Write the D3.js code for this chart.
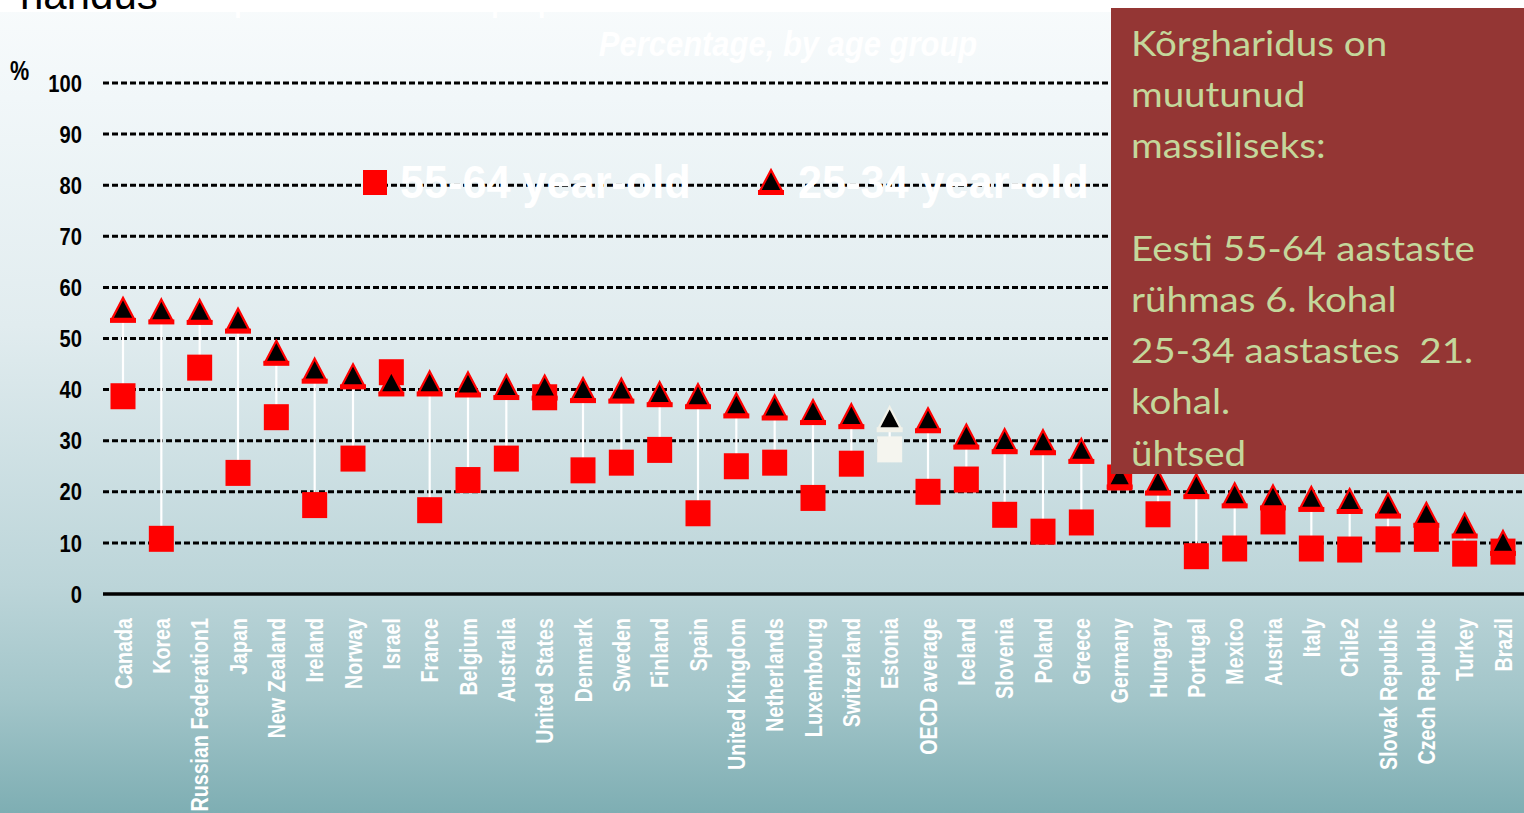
<!DOCTYPE html>
<html><head><meta charset="utf-8">
<script src="https://cdn.jsdelivr.net/npm/d3@7/dist/d3.min.js"></script>
<style>html,body{margin:0;padding:0;overflow:hidden;background:#fff}svg{display:block}</style>
</head><body>
<script>
const categories = ["Canada","Korea","Russian Federation1","Japan","New Zealand","Ireland","Norway","Israel","France","Belgium","Australia","United States","Denmark","Sweden","Finland","Spain","United Kingdom","Netherlands","Luxembourg","Switzerland","Estonia","OECD average","Iceland","Slovenia","Poland","Greece","Germany","Hungary","Portugal","Mexico","Austria","Italy","Chile2","Slovak Republic","Czech Republic","Turkey","Brazil"];
const age25_34 = [55.6,55.3,55.2,53.5,47.2,43.7,42.6,41.2,41.2,41.0,40.5,40.4,39.9,39.8,39.1,38.7,36.9,36.5,35.6,34.8,34.2,34.0,30.8,29.9,29.7,28.0,23.0,21.8,21.1,19.3,18.9,18.6,18.2,17.3,15.5,13.4,10.0];
const age55_64 = [38.7,10.8,44.3,23.7,34.6,17.4,26.5,43.4,16.4,22.3,26.5,38.5,24.2,25.7,28.2,15.8,25.0,25.7,18.8,25.5,28.3,20.0,22.4,15.5,12.2,14.0,22.8,15.6,7.4,8.9,14.2,8.9,8.7,10.7,10.8,7.9,8.3];
const yTicks = [0,10,20,30,40,50,60,70,80,90,100];
const highlight = "Estonia";
const legendLabels = ["55-64 year-old","25-34 year-old"];
const titleText = "haridus";
const subtitleWhite = "Proportion of the population that has attained tertiary education";
const chartSubtitle = "Percentage, by age group";
const boxLines = ["Kõrgharidus on","muutunud","massiliseks:","","Eesti 55-64 aastaste","rühmas 6. kohal","25-34 aastastes  21.","kohal.","ühtsed"];

const W = 1524, H = 813;
const svg = d3.select("body").append("svg").attr("width", W).attr("height", H);

const defs = svg.append("defs");
const grad = defs.append("linearGradient").attr("id","bg").attr("x1",0).attr("y1",0).attr("x2",0).attr("y2",1);
[[0,"#f8fbfc"],[0.12,"#f1f7f9"],[0.4,"#e1ecef"],[0.72,"#bcd5d9"],[0.86,"#a2c5c9"],[1,"#7eaeb3"]]
  .forEach(([o,c]) => grad.append("stop").attr("offset",o).attr("stop-color",c));

svg.append("rect").attr("width",W).attr("height",H).attr("fill","url(#bg)");
svg.append("rect").attr("width",W).attr("height",12).attr("fill","#ffffff");

const font = "Arial, 'Liberation Sans', sans-serif";

// titles (cut off at the top edge, as in the reference slide)
svg.append("text").attr("x",20).attr("y",9).attr("font-family",font).attr("font-size",42)
  .attr("fill","#000").text(titleText);
svg.append("text").attr("x",168).attr("y",9).attr("font-family",font).attr("font-size",42)
  .attr("fill","#ffffff").text(subtitleWhite);
svg.append("text").attr("transform","translate(788,56) scale(0.86,1)").attr("text-anchor","middle")
  .attr("font-family",font).attr("font-size",36).attr("font-weight","bold").attr("font-style","italic")
  .attr("fill","#ffffff").text(chartSubtitle);

const y = d3.scaleLinear().domain([0,100]).range([594,83]);
const x = d3.scalePoint().domain(categories).range([123,1503]);

// gridlines
svg.append("g").selectAll("line").data(yTicks.filter(d=>d>0)).join("line")
  .attr("x1",103).attr("x2",W).attr("y1",d=>y(d)).attr("y2",d=>y(d))
  .attr("stroke","#000").attr("stroke-width",3).attr("stroke-dasharray","6,3");
svg.append("line").attr("x1",103).attr("x2",W).attr("y1",y(0)).attr("y2",y(0))
  .attr("stroke","#000").attr("stroke-width",3.5);

// y tick labels
svg.append("g").selectAll("text").data(yTicks).join("text")
  .attr("transform",d=>`translate(82,${y(d)}) scale(0.84,1)`)
  .attr("text-anchor","end").attr("dy","0.36em")
  .attr("font-family",font).attr("font-size",24).attr("font-weight","bold").attr("fill","#000")
  .text(d=>d);
svg.append("text").attr("transform","translate(10,80) scale(0.8,1)")
  .attr("font-family",font).attr("font-size",27).attr("font-weight","bold").attr("fill","#000").text("%");

// x labels
svg.append("g").selectAll("text").data(categories).join("text")
  .attr("transform",d=>`translate(${x(d)},618) rotate(-90) scale(0.82,1)`)
  .attr("text-anchor","end").attr("dy","0.36em")
  .attr("font-family",font).attr("font-size",24).attr("font-weight","bold").attr("fill","#ffffff")
  .text(d=>d);

const rows = categories.map((c,i)=>({c, a:age25_34[i], b:age55_64[i]}));

// high-low lines
svg.append("g").selectAll("line").data(rows).join("line")
  .attr("x1",d=>x(d.c)).attr("x2",d=>x(d.c)).attr("y1",d=>y(d.a)).attr("y2",d=>y(d.b))
  .attr("stroke","#ffffff").attr("stroke-width",2.2);

function sqColor(d){ return d.c===highlight ? "#f5f5ef" : "#ff0000"; }
function edgeColor(d){ return d.c===highlight ? "#f2f2ea" : "#ff0000"; }

// squares
svg.append("g").selectAll("rect").data(rows).join("rect")
  .attr("x",d=>x(d.c)-12.5).attr("y",d=>y(d.b)-13).attr("width",25).attr("height",26)
  .attr("fill",sqColor);

const triPath = "M0,-12 L11,9 L-11,9 Z";
// triangles
const tri = svg.append("g").selectAll("g").data(rows).join("g")
  .attr("transform",d=>`translate(${x(d.c)},${y(d.a)})`);
tri.append("rect").attr("x",-13).attr("y",8).attr("width",26).attr("height",5).attr("fill",edgeColor);
tri.append("path").attr("d",triPath).attr("fill","#000").attr("stroke",edgeColor)
  .attr("stroke-width",2.2).attr("stroke-linejoin","miter");

// legend
const lg = svg.append("g");
lg.append("rect").attr("x",363).attr("y",170).attr("width",24).attr("height",25).attr("fill","#ff0000");
lg.append("text").attr("transform","translate(400,198) scale(0.94,1)")
  .attr("font-family",font).attr("font-size",46).attr("font-weight","bold").attr("fill","#ffffff")
  .text(legendLabels[0]);
const lt = lg.append("g").attr("transform","translate(771,182)");
lt.append("rect").attr("x",-13).attr("y",8).attr("width",26).attr("height",5).attr("fill","#ff0000");
lt.append("path").attr("d",triPath).attr("fill","#000").attr("stroke","#ff0000").attr("stroke-width",2.2);
lg.append("text").attr("transform","translate(798,198) scale(0.94,1)")
  .attr("font-family",font).attr("font-size",46).attr("font-weight","bold").attr("fill","#ffffff")
  .text(legendLabels[1]);

// text box
svg.append("rect").attr("x",1111).attr("y",8).attr("width",W-1111).attr("height",466).attr("fill","#943634");
svg.append("g").selectAll("text").data(boxLines).join("text")
  .attr("transform",(d,i)=>`translate(1131,${56+i*51.2}) scale(1.1,1)`)
  .attr("font-family","Lato, 'Open Sans', sans-serif").attr("font-size",35)
  .attr("fill","#c4d79b").style("white-space","pre")
  .text(d=>d);
</script>
</body></html>
